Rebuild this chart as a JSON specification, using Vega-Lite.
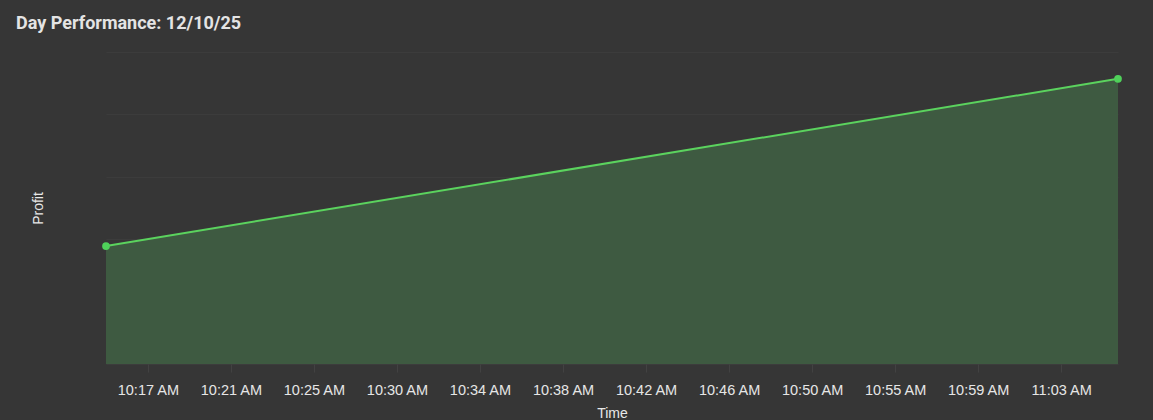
{
  "$schema": "https://vega.github.io/schema/vega-lite/v6.json",
  "width": 1012,
  "height": 312,
  "autosize": {"type": "none"},
  "padding": {"left": 106, "top": 52, "right": 35, "bottom": 56},
  "background": "#363636",
  "title": {
    "text": "Day Performance: 12/10/25",
    "anchor": "start",
    "frame": "group",
    "dx": -90,
    "offset": 5,
    "baseline": "alphabetic",
    "font": "Roboto",
    "fontSize": 18,
    "fontWeight": "bold",
    "color": "#e4e4e4"
  },
  "config": {
    "view": {"stroke": null},
    "axis": {"labelFont": "Liberation Sans", "titleFont": "Liberation Sans"}
  },
  "data": {
    "values": [
      {"time": "2025-12-10T10:15:24", "profit": 18.9},
      {"time": "2025-12-10T11:06:11", "profit": 45.7}
    ]
  },
  "encoding": {
    "x": {
      "field": "time",
      "type": "temporal",
      "scale": {"nice": false},
      "axis": {
        "title": "Time",
        "titleColor": "#e8e8e8",
        "titleFontSize": 14,
        "titleFontWeight": "normal",
        "titleY": 42,
        "titleBaseline": "top",
        "format": "%-I:%M %p",
        "values": [
          {"year": 2025, "month": 12, "date": 10, "hours": 10, "minutes": 17, "seconds": 30},
          {"year": 2025, "month": 12, "date": 10, "hours": 10, "minutes": 21, "seconds": 40},
          {"year": 2025, "month": 12, "date": 10, "hours": 10, "minutes": 25, "seconds": 50},
          {"year": 2025, "month": 12, "date": 10, "hours": 10, "minutes": 30, "seconds": 0},
          {"year": 2025, "month": 12, "date": 10, "hours": 10, "minutes": 34, "seconds": 10},
          {"year": 2025, "month": 12, "date": 10, "hours": 10, "minutes": 38, "seconds": 20},
          {"year": 2025, "month": 12, "date": 10, "hours": 10, "minutes": 42, "seconds": 30},
          {"year": 2025, "month": 12, "date": 10, "hours": 10, "minutes": 46, "seconds": 40},
          {"year": 2025, "month": 12, "date": 10, "hours": 10, "minutes": 50, "seconds": 50},
          {"year": 2025, "month": 12, "date": 10, "hours": 10, "minutes": 55, "seconds": 0},
          {"year": 2025, "month": 12, "date": 10, "hours": 10, "minutes": 59, "seconds": 10},
          {"year": 2025, "month": 12, "date": 10, "hours": 11, "minutes": 3, "seconds": 20}
        ],
        "labelColor": "#e6e6e6",
        "labelFontSize": 14.5,
        "labelPadding": 11,
        "labelOverlap": false,
        "labelFlush": false,
        "tickSize": 8,
        "tickColor": "#424242",
        "domain": false,
        "grid": false
      }
    },
    "y": {
      "field": "profit",
      "type": "quantitative",
      "scale": {"domain": [0, 50], "nice": false},
      "axis": {
        "title": "Profit",
        "titleColor": "#e8e8e8",
        "titleFontSize": 14,
        "titleFontWeight": "normal",
        "titleAngle": 270,
        "titleX": -68,
        "titleY": 156,
        "titleAlign": "center",
        "titleBaseline": "middle",
        "values": [0, 10, 20, 30, 40, 50],
        "labels": false,
        "ticks": false,
        "domain": false,
        "grid": true,
        "gridColor": "#3c3c3c",
        "gridWidth": 1
      }
    }
  },
  "layer": [
    {"mark": {"type": "area", "color": "#3e5a41", "opacity": 1}},
    {"mark": {"type": "line", "color": "#5bd35e", "strokeWidth": 2}},
    {"mark": {"type": "point", "filled": true, "color": "#4fd15a", "size": 60, "opacity": 1}}
  ]
}
